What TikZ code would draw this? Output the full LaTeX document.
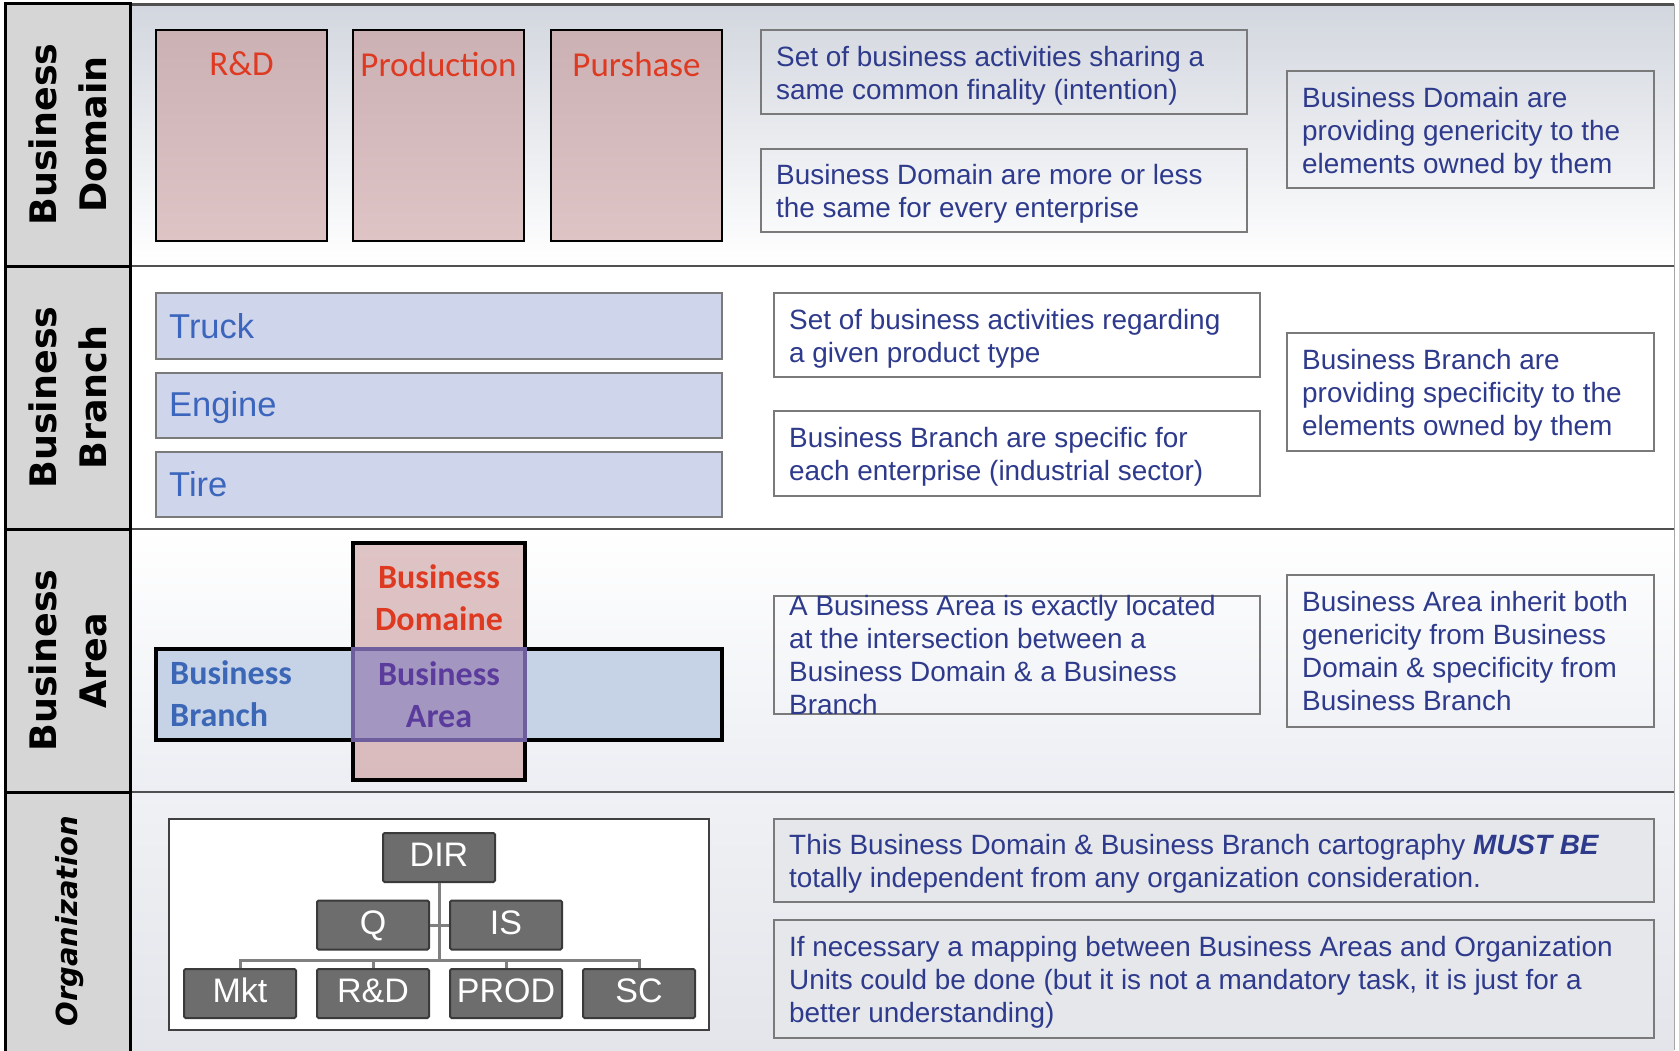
\documentclass[tikz,border=0pt]{standalone}
\usepackage{fontspec}
\setmainfont{Liberation Sans}
\newfontfamily\calib{Carlito}
\newfontfamily\dejav{DejaVu Sans}
\usetikzlibrary{calc}
\definecolor{labgray}{HTML}{D6D6D6}
\definecolor{rowline}{HTML}{505050}
\definecolor{boxgray}{HTML}{7A7A7A}
\definecolor{txtblue}{HTML}{2E3A8C}
\definecolor{redlab}{HTML}{DE3A22}
\definecolor{pinktop}{HTML}{CBB1B4}
\definecolor{pinkbot}{HTML}{DFC4C6}
\definecolor{barblue}{HTML}{CFD5EA}
\definecolor{bartxt}{HTML}{3C66BD}
\definecolor{crosspinktop}{HTML}{DFC4C5}
\definecolor{crosspinkbot}{HTML}{D9BBBD}
\definecolor{crossblue}{HTML}{C6D3E7}
\definecolor{areafill}{HTML}{A397C1}
\definecolor{arealine}{HTML}{6E5E9E}
\definecolor{areatxt}{HTML}{5B3B9B}
\definecolor{branchtxt}{HTML}{3C67B6}
\definecolor{orgfill}{HTML}{6D6D6D}
\definecolor{orgline}{HTML}{3A3A3A}
\definecolor{conngray}{HTML}{808080}
\definecolor{oboxfill}{HTML}{E5E7EB}
\definecolor{row1top}{HTML}{D2D6DE}
\definecolor{row3bot}{HTML}{ECEEF3}
\definecolor{row4top}{HTML}{F0F1F4}
\definecolor{row4bot}{HTML}{E3E5EB}
\tikzset{
  labcell/.style={draw=black, fill=labgray, line width=3pt, inner sep=0pt, minimum width=125pt},
  labtext/.style={rotate=90, align=center, inner sep=0pt, font=\dejav\bfseries\fontsize{36.5}{50}\selectfont},
  tbox/.style={draw=boxgray, line width=2pt, inner sep=0pt},
  ttext/.style={anchor=west, align=left, inner sep=0pt, text=txtblue, font=\fontsize{27.9}{33}\selectfont},
  pinkbox/.style={draw=black, line width=2pt, top color=pinktop, bottom color=pinkbot, inner sep=0pt, minimum width=171pt, minimum height=211pt},
  pinktext/.style={text=redlab, inner sep=0pt, font=\calib\fontsize{35}{40}\selectfont},
  bar/.style={draw=boxgray, fill=barblue, line width=2pt, inner sep=0pt, minimum width=566pt, minimum height=65pt},
  bartext/.style={anchor=west, text=bartxt, inner sep=0pt, font=\fontsize{34.5}{40}\selectfont},
  crossbold/.style={align=center, inner sep=0pt, font=\calib\bfseries\fontsize{34}{42}\selectfont},
  orgbox/.style={draw=orgline, fill=orgfill, line width=2pt, rounded corners=1.5pt, minimum width=112pt, minimum height=49pt, inner sep=0pt, text=white, text height=24pt, text depth=6pt, font=\fontsize{34}{38}\selectfont},
  conn/.style={draw=conngray, line width=3pt},
}
\begin{document}
\begin{tikzpicture}[x=1pt,y=-1pt]
\useasboundingbox (0,0) rectangle (1679,1050);
\fill[white] (0,0) rectangle (1679,1050);

% row backgrounds
\shade[top color=row1top, bottom color=white] (130,3) rectangle (1674,266);
\fill[white] (130,266) rectangle (1674,529);
\shade[top color=white, bottom color=row3bot] (130,529) rectangle (1674,792);
\shade[top color=row4top, bottom color=row4bot] (130,792) rectangle (1674,1050);
\draw[rowline, line width=3pt] (130,4) -- (1674,4);
\draw[rowline, line width=2.5pt] (130,266) -- (1674,266);
\draw[rowline, line width=2.5pt] (130,529) -- (1674,529);
\draw[rowline, line width=2.5pt] (130,792) -- (1674,792);
\draw[black!35, line width=1pt] (1674,4) -- (1674,1050);

% label column
\node[labcell, minimum height=263pt] (lab1) at (67.5,134.5) {};
\node[labcell, minimum height=263pt] (lab2) at (67.5,397.5) {};
\node[labcell, minimum height=263pt] (lab3) at (67.5,660.5) {};
\node[labcell, minimum height=262pt] (lab4) at (67.5,923) {};
\node[labtext] (lab1t) at (lab1.center) {Business\\Domain};
\node[labtext] (lab2t) at (lab2.center) {Business\\Branch};
\node[labtext] (lab3t) at (lab3.center) {Business\\Area};
\node[labtext, font=\dejav\bfseries\itshape\fontsize{29}{36}\selectfont] (lab4t) at (70,921) {Organization};

% ---- Row 1: Business Domain
\node[pinkbox] (rd) at (241.5,135.5) {};
\node[pinkbox] (prod) at (438.5,135.5) {};
\node[pinkbox] (purs) at (636.5,135.5) {};
\node[pinktext] (rdt) at ([yshift=-35pt]rd.north) {R\&D};
\node[pinktext] (prodt) at ([yshift=-35pt]prod.north) {Production};
\node[pinktext] (purst) at ([yshift=-35pt]purs.north) {Purshase};

\node[tbox, minimum width=486pt, minimum height=84pt] (d1) at (1004,72) {};
\node[ttext] (d1t) at ([xshift=16pt,yshift=-4pt]d1.west) {Set of business activities sharing a\\same common finality (intention)};
\node[tbox, minimum width=486pt, minimum height=83pt] (d2) at (1004,190.5) {};
\node[ttext] (d2t) at ([xshift=16pt,yshift=-3.5pt]d2.west) {Business Domain are more or less\\the same for every enterprise};
\node[tbox, minimum width=367pt, minimum height=117pt] (d3) at (1470.5,129.5) {};
\node[ttext] (d3t) at ([xshift=16pt,yshift=-3.5pt]d3.west) {Business Domain are\\providing genericity to the\\elements owned by them};

% ---- Row 2: Business Branch
\node[bar, minimum height=66pt] (truck) at (439,326) {};
\node[bar] (engine) at (439,405.5) {};
\node[bar] (tire) at (439,484.5) {};
\node[bartext] (truckt) at ([xshift=14pt]truck.west) {Truck};
\node[bartext] (enginet) at ([xshift=14pt,yshift=-2pt]engine.west) {Engine};
\node[bartext] (tiret) at ([xshift=14pt]tire.west) {Tire};

\node[tbox, minimum width=486pt, minimum height=84pt] (b1) at (1017,335) {};
\node[ttext] (b1t) at ([xshift=16pt,yshift=-4pt]b1.west) {Set of business activities regarding\\a given product type};
\node[tbox, minimum width=486pt, minimum height=85pt] (b2) at (1017,453.5) {};
\node[ttext] (b2t) at ([xshift=16pt,yshift=-3pt]b2.west) {Business Branch are specific for\\each enterprise (industrial sector)};
\node[tbox, minimum width=367pt, minimum height=118pt] (b3) at (1470.5,392) {};
\node[ttext] (b3t) at ([xshift=16pt,yshift=-3pt]b3.west) {Business Branch are\\providing specificity to the\\elements owned by them};

% ---- Row 3: Business Area
\node[draw=black, line width=4pt, top color=crosspinktop, bottom color=crosspinkbot, inner sep=0pt, minimum width=172pt, minimum height=237pt] (vdom) at (439,661.5) {};
\node[draw=black, line width=4pt, fill=crossblue, inner sep=0pt, minimum width=566pt, minimum height=91pt] (hbr) at (439,694.5) {};
\node[draw=arealine, line width=4pt, fill=areafill, inner sep=0pt, minimum width=172pt, minimum height=91pt] (area) at (439,694.5) {};
\node[crossbold, text=redlab] (vdomt) at (439,598) {Business\\Domaine};
\node[crossbold, text=branchtxt, anchor=west, align=left] (hbrt) at (170,694) {Business\\Branch};
\node[crossbold, text=areatxt] (areat) at (439,694.5) {Business\\Area};

\node[tbox, minimum width=486pt, minimum height=118pt] (a1) at (1017,655) {};
\node[ttext] (a1t) at ([xshift=16pt]a1.west) {A Business Area is exactly located\\at the intersection between a\\Business Domain \& a Business\\Branch};
\node[tbox, minimum width=367pt, minimum height=152pt] (a2) at (1470.5,651) {};
\node[ttext] (a2t) at ([xshift=16pt]a2.west) {Business Area inherit both\\genericity from Business\\Domain \& specificity from\\Business Branch};

% ---- Row 4: Organization
\node[draw=black!75, fill=white, line width=1.5pt, inner sep=0pt, minimum width=540pt, minimum height=211pt] (orgpanel) at (439,924.5) {};
\node[orgbox] (dir) at (439,857.5) {DIR};
\node[orgbox] (q) at (373,925) {Q};
\node[orgbox] (is) at (506,925) {IS};
\node[orgbox] (mkt) at (240,993.5) {Mkt};
\node[orgbox] (rd2) at (373,993.5) {R\&D};
\node[orgbox] (prod2) at (506,993.5) {PROD};
\node[orgbox] (sc) at (639,993.5) {SC};
\coordinate (bus) at (439,960.5);
\draw[conn] (dir.south) -- (dir.south |- bus);
\draw[conn] (q.east) -- (is.west);
\draw[conn] (mkt.north) -- (mkt.north |- bus) -| (sc.north);
\draw[conn] (rd2.north) -- (rd2.north |- bus);
\draw[conn] (prod2.north) -- (prod2.north |- bus);

\node[tbox, fill=oboxfill, minimum width=880pt, minimum height=83pt] (o1) at (1214,860.5) {};
\node[ttext] (o1t) at ([xshift=16pt,yshift=-3pt]o1.west) {This Business Domain \& Business Branch cartography {\bfseries\itshape MUST BE}\\totally independent from any organization consideration.};
\node[tbox, fill=oboxfill, minimum width=880pt, minimum height=118pt] (o2) at (1214,979) {};
\node[ttext] (o2t) at ([xshift=16pt,yshift=-3pt]o2.west) {If necessary a mapping between Business Areas and Organization\\Units could be done (but it is not a mandatory task, it is just for a\\better understanding)};
\end{tikzpicture}
\end{document}
